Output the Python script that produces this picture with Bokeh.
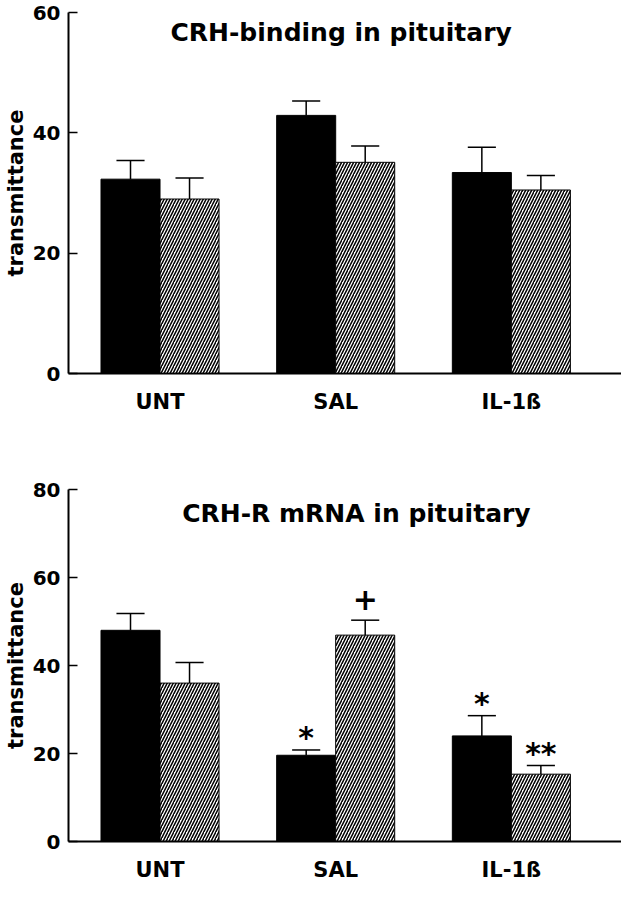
from bokeh.plotting import figure
from bokeh.layouts import column
from bokeh.models import FixedTicker, Label, ColumnDataSource
from bokeh.core.properties import value
from bokeh.embed import file_html
from bokeh.resources import INLINE

# ---------------- data ----------------
categories = ["UNT", "SAL", "IL-1ß"]
group_pos = [1, 2, 3]

binding_solid = [32.3, 42.9, 33.4]
binding_solid_err = [3.1, 2.4, 4.2]
binding_hatched = [29.0, 35.1, 30.5]
binding_hatched_err = [3.5, 2.7, 2.4]
binding_ticks = [0, 20, 40, 60]

mrna_solid = [48.0, 19.6, 24.0]
mrna_solid_err = [3.8, 1.2, 4.6]
mrna_hatched = [36.0, 46.9, 15.3]
mrna_hatched_err = [4.7, 3.4, 2.0]
mrna_ticks = [0, 20, 40, 60, 80]

# significance marks in the lower panel
mrna_marks_text = ["*", "+", "*", "**"]
mrna_marks_group = [2, 2, 3, 3]
mrna_marks_series = ["solid", "hatched", "solid", "hatched"]
mrna_marks_y = [28.4, 57.8, 36.1, 24.7]

# ---------------- style ----------------
FONT = "DejaVu Sans"
OFF = 0.168
BAR_W = 0.336
CAP = 0.08
XR = (0.479, 3.627)
MARK_SHIFT = {"*": 21, "**": 21, "+": 12}   # screen-pixel glyph centring


def panel(title, tx, ty, solid, solid_err, hatched, hatched_err, ymax, ticks,
          height, btop, bbottom):
    p = figure(width=621, height=height, x_range=XR, y_range=(0, ymax),
               output_backend="svg", toolbar_location=None,
               min_border_left=59, min_border_right=0,
               min_border_top=btop, min_border_bottom=bbottom)
    p.outline_line_color = None
    p.xgrid.visible = False
    p.ygrid.visible = False
    p.background_fill_color = "white"

    xs_s = [g - OFF for g in group_pos]
    xs_h = [g + OFF for g in group_pos]
    tops_s = [v + e for v, e in zip(solid, solid_err)]
    tops_h = [v + e for v, e in zip(hatched, hatched_err)]

    # error bars (upper only)
    for xs, vals, tops in ((xs_s, solid, tops_s), (xs_h, hatched, tops_h)):
        p.segment(x0=xs, y0=vals, x1=xs, y1=tops, line_color="black", line_width=1.5)
        p.segment(x0=[x - CAP for x in xs], y0=tops, x1=[x + CAP for x in xs], y1=tops,
                  line_color="black", line_width=1.5)

    p.vbar(x=xs_s, top=solid, width=BAR_W, fill_color="black", line_color="black",
           line_width=1)
    p.vbar(x=xs_h, top=hatched, width=BAR_W, fill_color="white", line_color="black",
           line_width=1, hatch_pattern="right_diagonal_line", hatch_color="black",
           hatch_scale=6, hatch_weight=1.5)

    p.add_layout(Label(x=tx, y=ty, text=title, text_align="center",
                       text_baseline="middle", text_font=FONT,
                       text_font_style="bold", text_font_size="25px",
                       text_color="black"))

    p.xaxis.ticker = FixedTicker(ticks=group_pos)
    p.xaxis.major_label_overrides = {g: c for g, c in zip(group_pos, categories)}
    p.xaxis.major_tick_line_color = None
    p.xaxis.minor_tick_line_color = None
    p.xaxis.major_label_standoff = 10

    p.yaxis.ticker = FixedTicker(ticks=ticks)
    p.yaxis.major_tick_in = 9
    p.yaxis.major_tick_out = 0
    p.yaxis.minor_tick_line_color = None
    p.yaxis.major_label_standoff = 8
    p.yaxis.axis_label = "transmittance"
    p.yaxis.axis_label_standoff = 2
    p.yaxis.axis_label_text_font = FONT
    p.yaxis.axis_label_text_font_style = "bold"
    p.yaxis.axis_label_text_font_size = "21px"
    p.yaxis.axis_label_text_color = "black"

    for ax in (p.xaxis, p.yaxis):
        ax.axis_line_width = 2
        ax.axis_line_color = "black"
        ax.major_tick_line_width = 1.5
        ax.major_label_text_font = FONT
        ax.major_label_text_font_style = "bold"
        ax.major_label_text_color = "black"
    p.xaxis.major_label_text_font_size = "21px"
    p.yaxis.major_label_text_font_size = "20px"
    p.yaxis.major_tick_line_color = "black"
    return p


p1 = panel("CRH-binding in pituitary", 2.031, 56.6,
           binding_solid, binding_solid_err, binding_hatched, binding_hatched_err,
           60, binding_ticks, 418, 12, 45)

p2 = panel("CRH-R mRNA in pituitary", 2.118, 74.6,
           mrna_solid, mrna_solid_err, mrna_hatched, mrna_hatched_err,
           80, mrna_ticks, 466, 71, 25)

mark_x = [g - OFF if s == "solid" else g + OFF
          for g, s in zip(mrna_marks_group, mrna_marks_series)]
mark_dy = [MARK_SHIFT[t] for t in mrna_marks_text]
src = ColumnDataSource(dict(x=mark_x, y=mrna_marks_y, t=mrna_marks_text, dy=mark_dy))
p2.text(x="x", y="y", text="t", y_offset="dy", source=src, text_align="center",
        text_baseline="middle", text_font=value(FONT), text_font_style="bold",
        text_font_size="30px", text_color="black")

layout = column(p1, p2, spacing=0)
open("out.html", "w").write(file_html(layout, INLINE))
